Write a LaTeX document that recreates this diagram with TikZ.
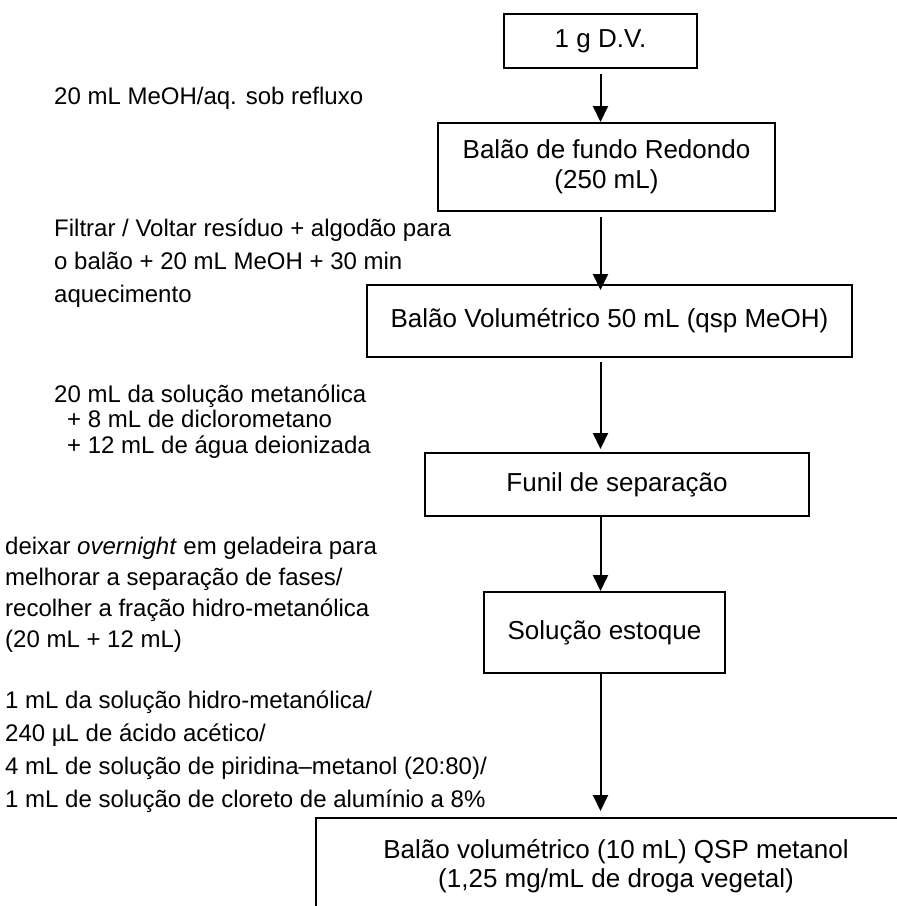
\documentclass[tikz,border=0pt]{standalone}
\usepackage{fontspec}
\setmainfont{Liberation Sans}
\usetikzlibrary{arrows.meta}

\begin{document}
\begin{tikzpicture}[x=1pt,y=-1pt,
  stepbox/.style={draw, line width=2pt, rectangle, inner sep=0pt, align=center,
    font=\fontsize{26}{30}\selectfont},
  flow/.style={line width=2pt, -{Triangle[length=16pt,width=15pt]}},
  note/.style={anchor=base west, inner sep=0pt}]
\useasboundingbox (0,0) rectangle (897,906);
\clip (0,0) rectangle (897,906);

% process steps
\node[stepbox, minimum width=193pt, minimum height=54pt] (b1) at (600.5,41) {1 g D.V.};
\node[stepbox, minimum width=337pt, minimum height=88pt] (b2) at (606.5,167)
  {Balão de fundo Redondo\\(250 mL)};
\node[stepbox, minimum width=485pt, minimum height=72pt] (b3) at (609.5,321)
  {Balão Volumétrico 50 mL (qsp MeOH)};
\node[stepbox, minimum width=384pt, minimum height=63pt] (b4) at (617,484.5)
  {Funil de separação};
\node[stepbox, minimum width=241pt, minimum height=81pt] (b5) at (604.5,632.5)
  {Solução estoque};
\node[stepbox, font=\fontsize{26}{29}\selectfont, minimum width=600pt, minimum height=96pt] (b6) at (616,866)
  {Balão volumétrico (10 mL) QSP metanol\\(1,25 mg/mL de droga vegetal)};

% flow arrows
\draw[flow, shorten <=5pt] (b1.south) -- (b1.south |- b2.north);
\draw[flow, shorten <=5pt, shorten >=-6pt] (b2.south -| b1.south) -- (b3.north -| b1.south);
\draw[flow, shorten <=4pt, shorten >=3pt] (b3.south -| b1.south) -- (b4.north -| b1.south);
\draw[flow] (b4.south -| b1.south) -- (b5.north -| b1.south);
\draw[flow, shorten >=6pt] (b5.south -| b1.south) -- (b6.north -| b1.south);

% operating conditions
\node[note, font=\fontsize{24}{28}\selectfont] (n1) at (54,104)
  {20 mL MeOH/aq. sob refluxo};
\node[note, font=\fontsize{24}{33}\selectfont] (n2) at (54,236)
  {\begin{tabular}[t]{@{}l@{}}Filtrar / Voltar resíduo + algodão para\\
   o balão + 20 mL MeOH + 30 min\\ aquecimento\end{tabular}};
\node[note, font=\fontsize{24}{25.5}\selectfont] (n3) at (54,402)
  {\begin{tabular}[t]{@{}l@{}}20 mL da solução metanólica\\
   \hspace*{13pt}+ 8 mL de diclorometano\\
   \hspace*{13pt}+ 12 mL de água deionizada\end{tabular}};
\node[note, font=\fontsize{24}{31}\selectfont] (n4) at (5,554)
  {\begin{tabular}[t]{@{}l@{}}deixar \textit{overnight} em geladeira para\\
   melhorar a separação de fases/\\
   recolher a fração hidro-metanólica\\
   (20 mL + 12 mL)\end{tabular}};
\node[note, font=\fontsize{24}{33}\selectfont] (n5) at (5,708)
  {\begin{tabular}[t]{@{}l@{}}1 mL da solução hidro-metanólica/\\
   240 µL de ácido acético/\\
   4 mL de solução de piridina–metanol (20:80)/\\
   1 mL de solução de cloreto de alumínio a 8\%\end{tabular}};
\end{tikzpicture}
\end{document}
